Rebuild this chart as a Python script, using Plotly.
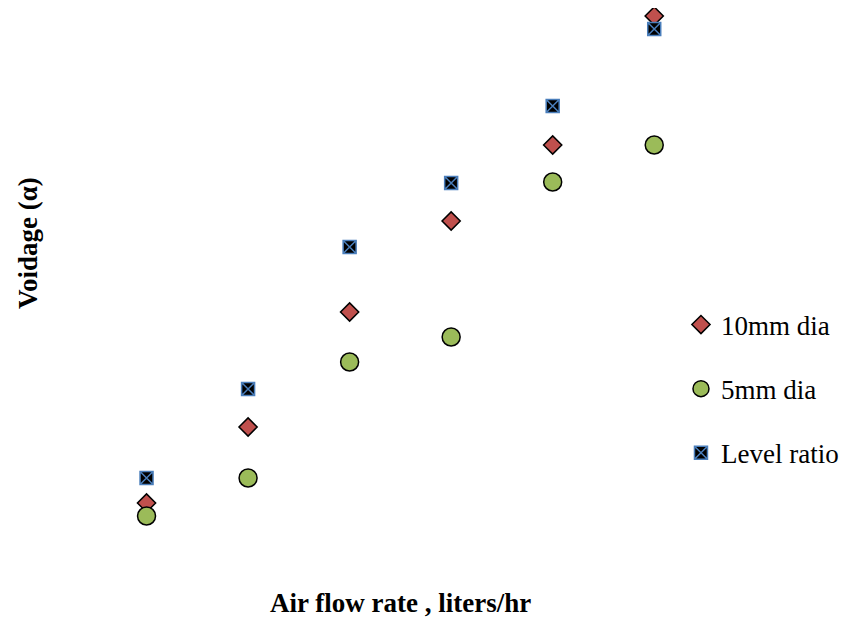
import plotly.graph_objects as go

air_flow = [1, 2, 3, 4, 5, 6]
voidage_10mm = [0.057, 0.133, 0.248, 0.339, 0.415, 0.544]
voidage_5mm = [0.044, 0.082, 0.198, 0.223, 0.378, 0.415]
level_ratio = [0.082, 0.171, 0.313, 0.377, 0.454, 0.531]

FONT = "Liberation Serif, Times New Roman, serif"
FS = 27

fig = go.Figure()
fig.add_trace(go.Scatter(
    x=air_flow, y=voidage_10mm, mode="markers", name="10mm dia", legendgroup="a",
    marker=dict(symbol="diamond", size=14, color="#c0504d", line=dict(color="black", width=1.5)),
))
fig.add_trace(go.Scatter(
    x=air_flow, y=voidage_5mm, mode="markers", name="5mm dia", legendgroup="b",
    marker=dict(symbol="circle", size=18, color="#9bbb59", line=dict(color="black", width=1.5)),
))
fig.add_trace(go.Scatter(
    x=air_flow, y=level_ratio, mode="markers", name="Level ratio", legendgroup="c",
    marker=dict(symbol="square-x", size=13, color="black", line=dict(color="#4a7ebb", width=1.5)),
))

fig.update_layout(
    width=839, height=612,
    margin=dict(l=37, r=142, t=0, b=60),
    paper_bgcolor="white", plot_bgcolor="white",
    font=dict(family=FONT, size=FS, color="black"),
    xaxis=dict(range=[0, 6.5], showgrid=False, zeroline=False, showticklabels=False,
               showline=False, ticks=""),
    yaxis=dict(range=[0, 0.552], showgrid=False, zeroline=False, showticklabels=False,
               showline=False, ticks=""),
    legend=dict(x=0.9636, xanchor="left", y=0.3098, yanchor="middle",
                tracegroupgap=26, font=dict(family=FONT, size=FS, color="black"),
                bgcolor="rgba(0,0,0,0)"),
    annotations=[
        dict(text="<b>Voidage (α)</b>", textangle=-90, xref="paper", yref="paper",
             x=(20 - 37) / 660, y=(552 - 235) / 552, xanchor="center", yanchor="middle",
             showarrow=False, font=dict(family=FONT, size=FS, color="black")),
        dict(text="<b>Air flow rate , liters/hr</b>", xref="paper", yref="paper",
             x=(392 - 37) / 660, y=(552 - 595) / 552, xanchor="center", yanchor="middle",
             showarrow=False, font=dict(family=FONT, size=FS, color="black")),
    ],
)

fig.write_html("out.html")
